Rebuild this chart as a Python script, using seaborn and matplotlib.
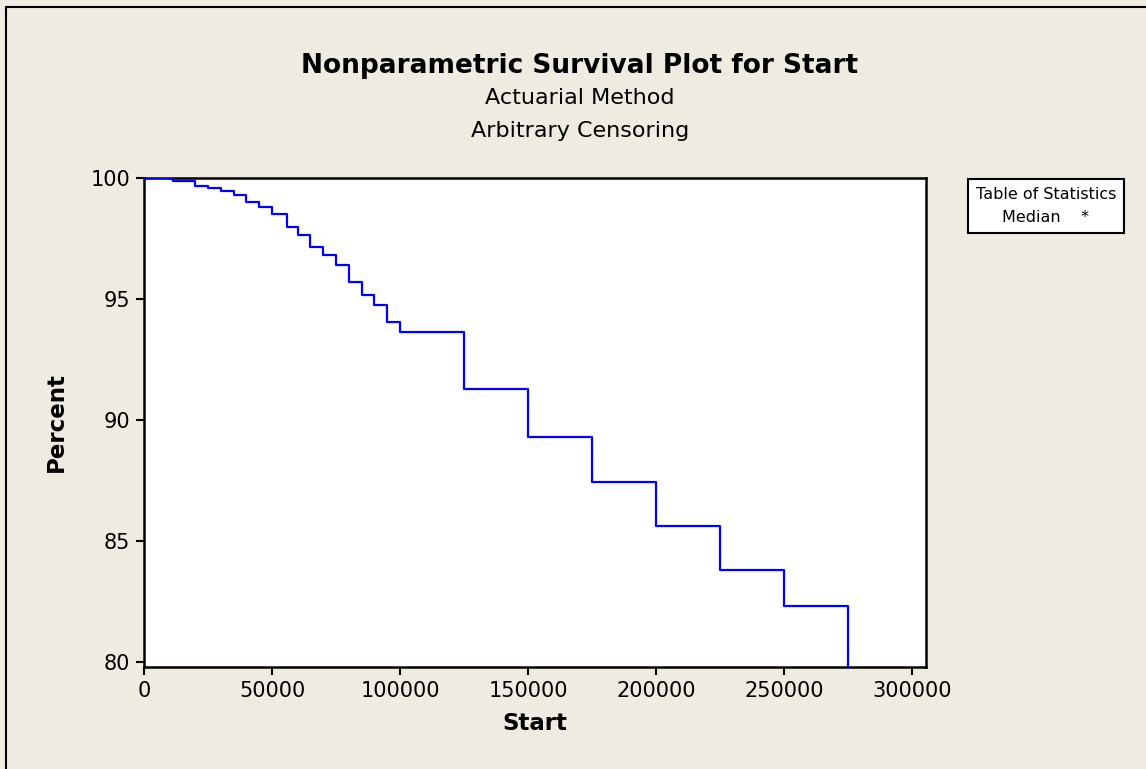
import numpy as np
import matplotlib
matplotlib.use("Agg")
import matplotlib.pyplot as plt
import seaborn as sns
import pandas as pd

# survival estimates
start = [0, 10000, 11500, 20000, 25000, 30000, 35000, 40000, 45000, 50000,
         56000, 60000, 65000, 70000, 75000, 80000, 85000, 90000, 95000,
         100000, 125000, 150000, 175000, 200000, 225000, 250000, 275000]
percent = [100, 99.95, 99.88, 99.68, 99.60, 99.45, 99.28, 99.02, 98.79, 98.52,
           97.98, 97.63, 97.14, 96.81, 96.39, 95.72, 95.17, 94.74, 94.06,
           93.65, 91.27, 89.28, 87.46, 85.63, 83.81, 82.33, 79.0]
x_ticks = [0, 50000, 100000, 150000, 200000, 250000, 300000]
y_ticks = [80, 85, 90, 95, 100]

BG = "#efebe1"

sns.set_theme(style="white")
plt.rcParams["font.family"] = ["DejaVu Sans"]
plt.rcParams["text.color"] = "black"
plt.rcParams["axes.labelcolor"] = "black"

df = pd.DataFrame({"Start": start, "Percent": percent})

fig = plt.figure(figsize=(11.46, 7.69), dpi=100, facecolor=BG)
ax = fig.add_axes([0.1257, 0.1327, 0.808 - 0.1257, 0.7685 - 0.1327])
ax.set_facecolor("white")

sns.lineplot(data=df, x="Start", y="Percent", drawstyle="steps-post",
             color="#0000ff", linewidth=1.6, ax=ax, zorder=3)

ax.set_xlim(0, 305500)
ax.set_ylim(79.8, 100)
ax.set_xticks(x_ticks)
ax.set_yticks(y_ticks)
ax.set_xticklabels([str(t) for t in x_ticks])
ax.tick_params(axis="both", direction="out", length=6, width=1.5,
               labelsize=15, colors="black", pad=4,
               bottom=True, left=True)
for s in ax.spines.values():
    s.set_color("black")
    s.set_linewidth(1.8)

ax.set_xlabel("Start", fontsize=16.5, fontweight="bold", labelpad=8)
ax.set_ylabel("Percent", fontsize=16.5, fontweight="bold", labelpad=16)

fig.text(0.506, 0.914, "Nonparametric Survival Plot for Start", ha="center",
         va="center", fontsize=19, fontweight="bold")
fig.text(0.506, 0.873, "Actuarial Method", ha="center", va="center", fontsize=16)
fig.text(0.506, 0.829, "Arbitrary Censoring", ha="center", va="center", fontsize=16)

# statistics box
fig.text(0.9127, 0.7325, "Table of Statistics\nMedian    *", ha="center", va="center",
         fontsize=11.5, linespacing=1.65,
         bbox=dict(boxstyle="square,pad=0.5", facecolor="white",
                   edgecolor="black", linewidth=1.5))

# outer frame (left and top edges visible)
fig.add_artist(plt.Line2D([6 / 1146, 6 / 1146], [0, 1 - 7 / 769],
                          transform=fig.transFigure, color="black", linewidth=1.5))
fig.add_artist(plt.Line2D([6 / 1146, 1], [1 - 7 / 769, 1 - 7 / 769],
                          transform=fig.transFigure, color="black", linewidth=1.5))

fig.savefig("out.png", dpi=100, facecolor=BG)
